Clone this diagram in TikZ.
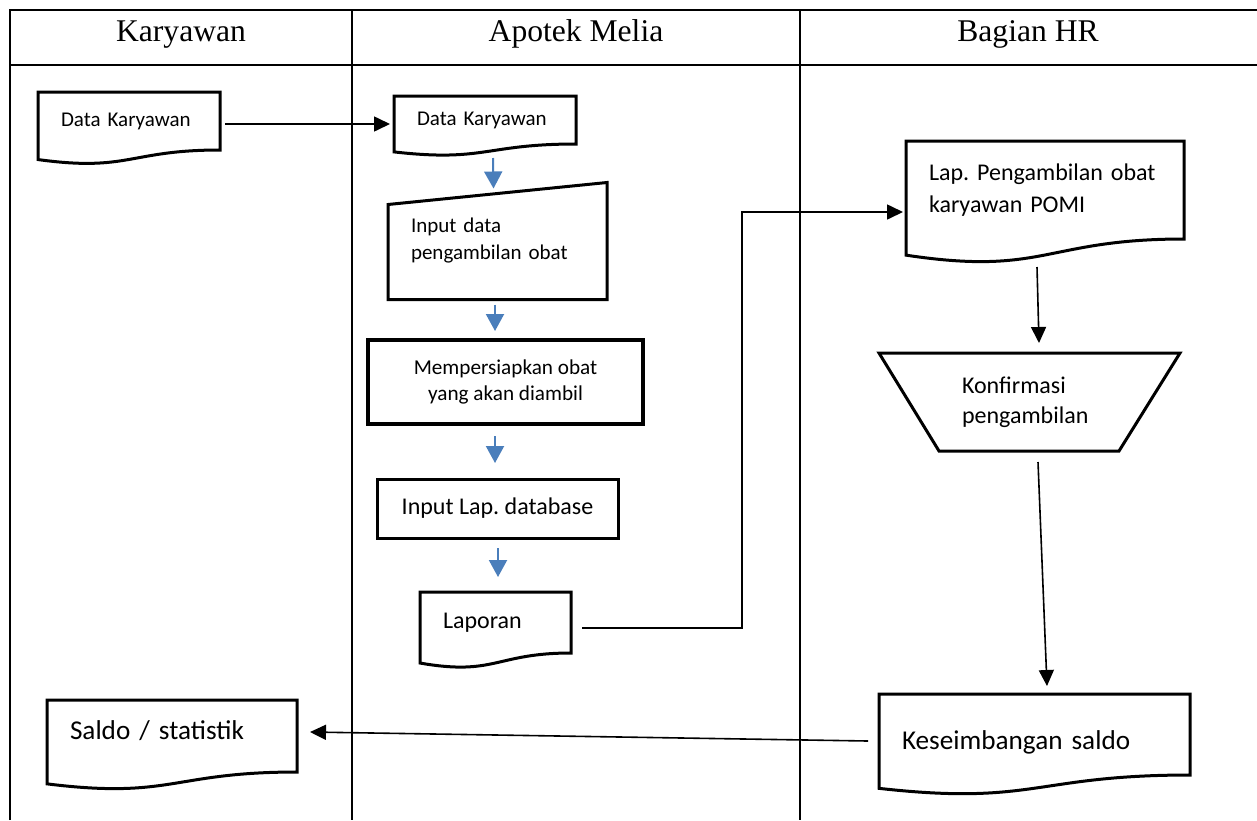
\documentclass[tikz,border=0pt]{standalone}
\usepackage{fontspec}
\setmainfont{Carlito}
\newfontfamily\headfont{Liberation Serif}
\usetikzlibrary{arrows.meta}
\usetikzlibrary{calc}
\definecolor{flowblue}{RGB}{74,126,187}
\frenchspacing
\newcommand{\fsmall}{\fontsize{10.5}{13.5}\selectfont}
\newcommand{\fmid}{\fontsize{12}{16}\selectfont}
\newcommand{\fbig}{\fontsize{13.6}{17}\selectfont}
\newcommand{\fhead}{\headfont\fontsize{15.8}{19}\selectfont}
% document symbol with a wavy bottom, drawn round a named node
\newcommand{\docshape}[1]{\draw[outline] (#1.north west) -- (#1.north east) -- (#1.south east)
  .. controls (#1.south) and ($(#1.north)!1.38!(#1.south)$) .. ($(#1.north west)!1.1646!(#1.south west)$) -- cycle;}

\begin{document}
\begin{tikzpicture}[line join=miter,x=0.5pt,y=-0.5pt,>={Triangle[length=8pt,width=7.5pt]},
  box/.style={draw=none,outer sep=0pt,inner ysep=0pt},
  doc/.style={box,align=left,inner xsep=11.5pt},
  outline/.style={line width=1.5pt},
  grid/.style={line width=1pt},
  conn/.style={->,line width=0.8pt},
  flow/.style={-{Triangle[length=8.5pt,width=9pt]},draw=flowblue,line width=1pt}]
\useasboundingbox (0,0) rectangle (1257,820);
% lanes
\draw[grid] (10,820) -- (10,10) -- (1257,10);
\draw[grid] (10,65) -- (1257,65);
\draw[grid] (352,10) -- (352,820);
\draw[grid] (800,10) -- (800,820);
\node[font=\fhead,anchor=base] (hKar) at (181,41) {Karyawan};
\node[font=\fhead,anchor=base] (hApt) at (576,41) {Apotek Melia};
\node[font=\fhead,anchor=base] (hHR) at (1028,41) {Bagian HR};
% Karyawan
\node[doc,text width=68pt,minimum height=29pt,font=\fsmall] (dataKar) at (129,121) {Data Karyawan};
\docshape{dataKar}
\node[doc,text width=102pt,minimum height=36pt,font=\fbig] (saldoKar) at (172,736) {\raisebox{2.5pt}[\height][\depth]{Saldo / statistik}};
\docshape{saldoKar}
% Apotek Melia
\node[doc,text width=68pt,minimum height=24pt,font=\fsmall] (dataApt) at (485,120) {Data Karyawan};
\docshape{dataApt}
\node[box,align=left,inner xsep=11.5pt,text width=86.5pt,minimum height=58.5pt,font=\fsmall] (inputObat) at (497.5,241) {Input data\\pengambilan obat};
\draw[outline] ($(inputObat.north west)+(0,22)$) -- (inputObat.north east) -- (inputObat.south east) -- (inputObat.south west) -- cycle;
\node[draw,line width=2pt,outer sep=0pt,minimum width=137.5pt,minimum height=42pt,align=center,font=\fontsize{10.6}{13}\selectfont] (siapObat) at (505.5,382) {Mempersiapkan obat\\yang akan diambil};
\node[draw,line width=1.5pt,outer sep=0pt,minimum width=120.5pt,minimum height=29.5pt,font=\fmid] (inputDb) at (497.5,508.5) {Input Lap. database};
\node[doc,text width=52.5pt,minimum height=30.5pt,font=\fmid] (laporan) at (495.5,622.5) {Laporan};
\docshape{laporan}
% Bagian HR
\node[doc,text width=116pt,minimum height=49pt,font=\fmid] (lapPomi) at (1045,190) {Lap. Pengambilan obat\\karyawan POMI};
\docshape{lapPomi}
\node[box,align=left,inner xsep=41.5pt,text width=67.5pt,minimum height=49pt,font=\fontsize{12}{15}\selectfont] (konfirmasi) at (1029.5,402) {Konfirmasi\\pengambilan};
\draw[outline] (konfirmasi.north west) -- (konfirmasi.north east) -- ($(konfirmasi.south east)+(-61,0)$) -- ($(konfirmasi.south west)+(60,0)$) -- cycle;
\node[doc,text width=132.5pt,minimum height=40.5pt,font=\fbig] (saldoHR) at (1034.5,734.5) {\raisebox{-4pt}[\height][\depth]{Keseimbangan saldo}};
\docshape{saldoHR}
% connectors
\draw[conn] ($(dataKar.east)+(5,3)$) -- ($(dataApt.west)+(-4,4)$);
\draw[flow] ($(dataApt.south)+(8,14)$) -- ($(inputObat.north)+(-4,6)$);
\draw[flow] ($(inputObat.south)+(-2.5,5)$) -- ($(siapObat.north)+(-10.5,-9)$);
\draw[flow] ($(siapObat.south)+(-10.5,12)$) -- ($(inputDb.north)+(-2.5,-16)$);
\draw[flow] ($(inputDb.south)+(0.5,10)$) -- ($(laporan.north)+(2.5,-15)$);
\coordinate (bend) at (742,212);
\draw[conn] ($(laporan.east)+(11,5.5)$) -| (bend) -- ($(lapPomi.west)+(-3,22)$);
\draw[conn] ($(lapPomi.south)+(-8,28)$) -- ($(konfirmasi.north)+(9.5,-10)$);
\draw[conn] ($(konfirmasi.south)+(8.5,11)$) -- ($(saldoHR.north)+(12.5,-8)$);
\draw[conn] ($(saldoHR.west)+(-11,6.5)$) -- ($(saldoKar.east)+(13,-4)$);
\end{tikzpicture}
\end{document}
